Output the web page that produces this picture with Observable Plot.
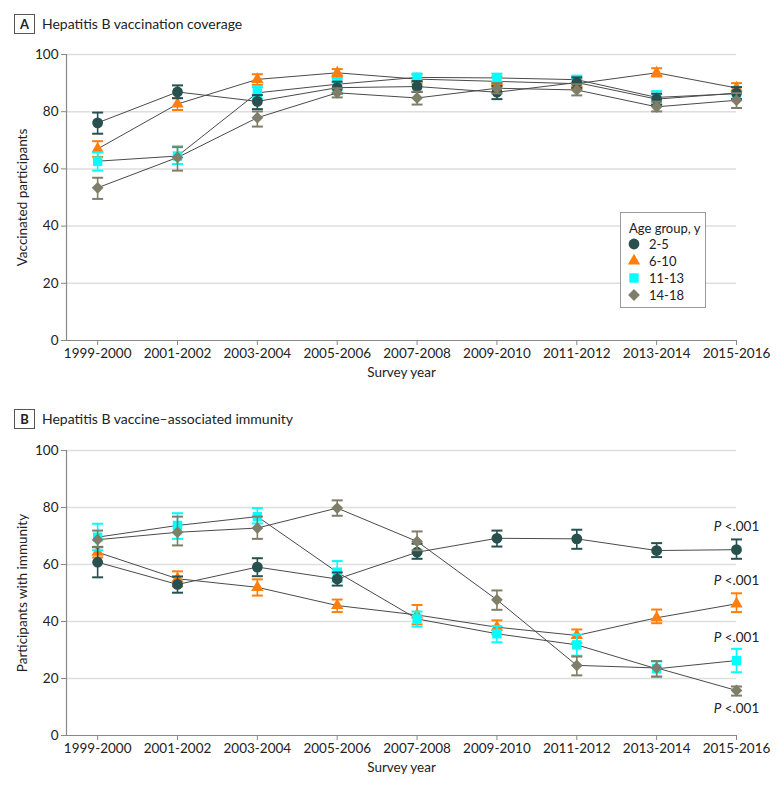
<!DOCTYPE html>
<html><head><meta charset="utf-8">
<script src="https://cdn.jsdelivr.net/npm/d3@7"></script>
<script src="https://cdn.jsdelivr.net/npm/@observablehq/plot@0.6"></script>
<style>
body{margin:0;background:#fff;font-family:Lato,"Open Sans",sans-serif;color:#222;}
.panel{position:relative;width:783px;height:395px;overflow:hidden;}
.header{position:relative;height:40px;}
.tag{position:absolute;left:14px;top:14px;width:19px;height:18px;border:1px solid #555;font-weight:bold;font-size:13px;text-align:center;line-height:18px;}
.title{position:absolute;left:42px;top:14px;line-height:20px;font-size:14px;}
.legend{position:absolute;left:620px;top:212px;}
</style></head>
<body>
<div id="chart"></div>
<script>
// ---------- data ----------
const years = ["1999-2000","2001-2002","2003-2004","2005-2006","2007-2008","2009-2010","2011-2012","2013-2014","2015-2016"];
const groups = ["2-5","6-10","11-13","14-18"];
const yTicks = [0,20,40,60,80,100];
const gridTicks = [20,40,60,80,100];

// Panel A: vaccination coverage, [estimate, lower, upper]
const cov_2_5   = [[76.1,72.3,79.7],[86.9,84.7,89.2],[83.6,80.9,85.8],[88.4,86.3,90.5],[88.8,86.9,90.7],[86.8,84.4,89.0],[90.2,88.3,92.0],[84.4,82.4,86.3],[86.5,84.4,88.6]];
const cov_6_10  = [[67.0,64.2,69.7],[82.7,80.6,84.8],[91.3,89.4,93.1],[93.6,92.2,94.9],[91.4,89.8,93.0],[90.6,88.8,92.3],[89.8,88.0,91.5],[93.6,92.3,95.2],[88.3,86.5,90.0]];
const cov_11_13 = [[62.7,59.4,65.8],[64.5,61.7,67.9],[86.6,84.5,88.6],[89.6,87.6,91.5],[92.0,90.7,93.3],[91.8,90.4,93.3],[91.2,89.8,92.6],[85.0,82.7,87.2],[86.3,84.0,88.6]];
const cov_14_18 = [[53.4,49.5,56.9],[64.0,59.4,67.6],[77.9,74.8,80.1],[86.6,85.0,88.2],[84.8,82.5,87.0],[88.2,86.4,90.0],[87.6,85.7,89.6],[81.7,80.1,83.5],[84.0,81.3,86.5]];

// Panel B: vaccine-associated immunity, [estimate, lower, upper]
const imm_2_5   = [[60.8,55.5,66.1],[53.0,50.1,55.8],[59.1,55.9,62.2],[54.9,52.6,57.2],[64.3,62.0,67.3],[69.2,66.3,71.9],[69.0,65.5,72.2],[64.9,62.6,67.5],[65.2,62.0,68.8]];
const imm_6_10  = [[64.3,62.5,66.2],[55.0,52.3,57.6],[52.0,49.1,54.8],[45.6,43.3,47.7],[42.3,39.0,45.8],[38.0,35.5,40.4],[35.1,32.5,37.2],[41.3,39.4,44.2],[46.2,43.3,49.9]];
const imm_11_13 = [[69.6,65.0,74.3],[73.7,69.0,78.0],[76.8,74.4,79.8],[57.3,54.0,61.2],[40.9,38.2,43.5],[35.7,32.7,38.4],[31.8,28.0,35.4],[23.4,20.5,26.0],[26.3,22.2,30.4]];
const imm_14_18 = [[68.7,66.1,71.9],[71.3,66.7,76.8],[72.8,69.0,76.8],[79.8,77.1,82.5],[68.1,65.0,71.6],[47.6,44.1,50.9],[24.6,21.1,27.7],[23.7,20.7,26.1],[15.8,14.0,17.2]];
const pTrend = ["<.001","<.001","<.001","<.001"];

// ---------- styles ----------
const colors  = ["#27504f","#ff7f0e","#00ffff","#7e7e69"];
const symbols = ["circle","triangle","square","diamond2"];
const radii   = [5.4, 4.6, 5.3, 5.3];
const drawOrder = [1,2,0,3];
const pDy = [-23, -23, -23, 18];

const capSymbol = {draw(ctx){ ctx.moveTo(-5.5,0); ctx.lineTo(5.5,0); }};
const xDomain = [-0.39, years.length - 1];

function makePanel(letter, title, yLabel, seriesList, withP) {
  const div = document.createElement("div");
  div.className = "panel";
  div.innerHTML = `<div class="header"><div class="tag">${letter}</div><div class="title">${title}</div></div>`;
  const rowsBy = seriesList.map((arr, g) => arr.map((d, i) => ({i, v: d[0], lo: d[1], hi: d[2], g: groups[g]})));
  const marks = [
    Plot.ruleY(gridTicks, {stroke: "#dedede", strokeWidth: 1.5}),
    Plot.axisY({ticks: yTicks, tickSize: 5, tickPadding: 3, label: null, stroke: "#888", fill: "#222"}),
    Plot.axisX({ticks: d3.range(years.length), tickFormat: i => years[i], tickSize: 5, tickPadding: 3, label: null, stroke: "#888", fill: "#222"}),
    Plot.ruleY([0], {stroke: "#888", strokeWidth: 1.2}),
    Plot.ruleX([xDomain[0]], {stroke: "#888", strokeWidth: 1.2}),
    Plot.text([yLabel], {frameAnchor: "left", dx: -44, rotate: -90, textAnchor: "middle", text: d => d, fontSize: 13.5, fill: "#222"}),
    Plot.text(["Survey year"], {frameAnchor: "bottom", dy: 36, textAnchor: "middle", text: d => d, fontSize: 13.5, fill: "#222"})
  ];
  drawOrder.forEach(g => {
    marks.push(Plot.line(rowsBy[g], {x: "i", y: "v", stroke: "#4a4a4a", strokeWidth: 1}));
  });
  drawOrder.forEach(g => {
    const rows = rowsBy[g];
    marks.push(Plot.ruleX(rows, {x: "i", y1: "lo", y2: "hi", stroke: colors[g], strokeWidth: 1.6}));
    marks.push(Plot.dot(rows, {x: "i", y: "lo", symbol: capSymbol, r: 3, fill: "none", stroke: colors[g], strokeWidth: 2}));
    marks.push(Plot.dot(rows, {x: "i", y: "hi", symbol: capSymbol, r: 3, fill: "none", stroke: colors[g], strokeWidth: 2}));
    marks.push(Plot.dot(rows, {x: "i", y: "v", symbol: symbols[g], r: radii[g], fill: colors[g], stroke: "none"}));
  });
  if (withP) {
    groups.forEach((gName, g) => {
      const last = rowsBy[g][rowsBy[g].length - 1];
      marks.push(Plot.text([last], {x: "i", y: "v", text: () => "P " + pTrend[g], dy: pDy[g], textAnchor: "middle", fontSize: 13.5, fill: "#222"}));
    });
  }
  const svg = Plot.plot({
    width: 783, height: 355,
    marginTop: letter === "A" ? 14 : 15, marginBottom: 55, marginLeft: 66, marginRight: 47,
    x: {type: "linear", domain: xDomain},
    y: {domain: [0, 100]},
    style: {fontFamily: "Lato, 'Open Sans', sans-serif", fontSize: "13.5px", color: "#222", background: "white", overflow: "visible"},
    marks
  });
  d3.select(svg).selectAll("text").each(function() {
    const t = this.textContent;
    if (t.startsWith("P <")) {
      const rest = t.slice(1);
      const el = d3.select(this.querySelector("tspan") || this);
      el.text(null);
      el.append("tspan").attr("font-style", "italic").text("P");
      el.append("tspan").text(rest);
    }
  });
  div.appendChild(svg);
  return div;
}

function makeLegend() {
  const w = 86, h = 96;
  const svg = d3.create("svg").attr("width", w).attr("height", h).attr("class", "legend")
    .style("font-family", "Lato, 'Open Sans', sans-serif").style("font-size", "13px");
  svg.append("rect").attr("x", 0.5).attr("y", 0.5).attr("width", w - 1).attr("height", h - 1)
    .attr("fill", "white").attr("stroke", "#999");
  svg.append("text").attr("x", 9).attr("y", 16).attr("dy", "0.35em").attr("fill", "#222").text("Age group, y");
  const symTypes = {circle: d3.symbolCircle, triangle: d3.symbolTriangle, square: d3.symbolSquare, diamond2: d3.symbolDiamond2};
  groups.forEach((gName, g) => {
    const cy = 32 + g * 17;
    svg.append("path").attr("transform", `translate(14,${cy})`)
      .attr("d", d3.symbol(symTypes[symbols[g]], Math.PI * radii[g] * radii[g])())
      .attr("fill", colors[g]);
    svg.append("text").attr("x", 29).attr("y", cy).attr("dy", "0.35em").attr("fill", "#222").text(gName);
  });
  return svg.node();
}

const chart = document.getElementById("chart");
const pA = makePanel("A", "Hepatitis B vaccination coverage", "Vaccinated participants", [cov_2_5, cov_6_10, cov_11_13, cov_14_18], false);
pA.appendChild(makeLegend());
chart.appendChild(pA);
chart.appendChild(makePanel("B", "Hepatitis B vaccine–associated immunity", "Participants with immunity", [imm_2_5, imm_6_10, imm_11_13, imm_14_18], true));
</script>
</body></html>
